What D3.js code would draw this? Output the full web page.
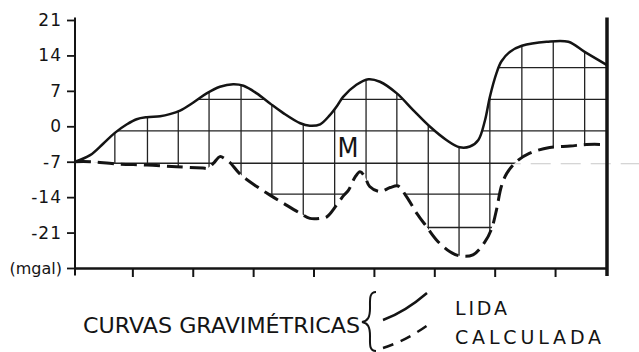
<!DOCTYPE html>
<html>
<head>
<meta charset="utf-8">
<script src="https://cdn.jsdelivr.net/npm/d3@7"></script>
<style>
  body { margin: 0; background: #fff; }
  svg { display: block; }
</style>
</head>
<body>
<svg id="chart" width="639" height="352"></svg>
<script>
// Gravity profile: observed ("LIDA") and computed ("CALCULADA") anomaly, mGal
const lidaX = [0.05, 0.30, 0.52, 0.71, 0.91, 1.07, 1.24, 1.46, 1.62, 1.79, 2.01, 2.23, 2.45, 2.67, 2.84, 3.06,
  3.28, 3.50, 3.78, 3.94, 4.11, 4.27, 4.40, 4.49, 4.71, 4.91, 5.10, 5.38, 5.65, 5.93, 6.20, 6.42, 6.59,
  6.73, 6.84, 6.92, 7.03, 7.11, 7.25, 7.45, 7.86, 8.22, 8.49, 8.86];
const lidaY = [-7.0, -5.7, -3.4, -1.3, 0.4, 1.4, 1.8, 2.0, 2.4, 3.1, 4.7, 6.5, 7.8, 8.3, 8.0, 6.5,
  4.5, 2.6, 0.6, 0.1, 0.4, 2.2, 4.2, 5.8, 8.2, 9.3, 8.8, 6.5, 3.2, -0.1, -2.7, -4.15, -4.0,
  -2.7, 1.2, 5.8, 10.5, 12.8, 14.7, 15.9, 16.7, 16.7, 14.7, 12.1];

const calcX = [0.05, 0.30, 0.74, 1.24, 1.73, 2.17, 2.24, 2.34, 2.45, 2.53, 2.62, 2.78, 3.06, 3.28, 3.50, 3.78,
  3.94, 4.11, 4.22, 4.38, 4.49, 4.58, 4.69, 4.77, 4.85, 4.93, 5.10, 5.27, 5.40, 5.54, 5.71, 5.87, 6.04,
  6.26, 6.42, 6.64, 6.84, 6.95, 7.03, 7.11, 7.20, 7.36, 7.58, 7.91, 8.25, 8.52, 8.86];
const calcY = [-7.0, -7.0, -7.45, -7.65, -8.0, -8.25, -8.3, -7.35, -6.0, -6.4, -7.2, -9.4, -11.9, -13.6, -15.2, -17.2,
  -18.2, -18.2, -17.9, -15.6, -13.8, -12.6, -10.0, -9.0, -10.0, -11.9, -12.9, -12.1, -11.8, -13.9, -17.2, -19.8, -22.5,
  -24.8, -25.6, -25.4, -22.8, -20.2, -16.5, -11.9, -9.3, -7.0, -5.3, -4.2, -3.9, -3.6, -3.6];

// Square hatching between the two curves
const gridX = [0.71, 1.25, 1.76, 2.27, 2.80, 3.31, 3.83, 4.35, 4.87, 5.38, 5.90, 6.41, 6.92, 7.45, 7.97, 8.49];
const gridY = [11.6, 5.3, -0.9, -7.3, -13.4, -20.0];

const xTicks = [1, 2, 3, 4, 5, 6, 7, 8];
const yTicks = [21, 14, 7, 0, -7, -14, -21, -28];
const yTickLabels = ["21", "14", "7", "0", "-7", "-14", "-21", "(mgal)"];

const seriesNames = ["LIDA", "CALCULADA"];
const legendTitle = "CURVAS GRAVIMÉTRICAS";
const zoneLabel = { text: "M", x: 4.57, y: -6.0 };
const traceLevel = -7.4;

const svg = d3.select("#chart");
const ink = "#141414";
const x = d3.scaleLinear().domain([0.05, 8.86]).range([75, 607]);
const y = d3.scaleLinear().domain([-28, 21]).range([268, 20]);

const line = d3.line()
  .x(d => x(d[0])).y(d => y(d[1]))
  .curve(d3.curveCatmullRom.alpha(0.5));

const lida = d3.zip(lidaX, lidaY);
const calc = d3.zip(calcX, calcY);

// clip region: observed curve forward, computed curve back
const topPath = line(lida);
const botPath = line(calc.slice().reverse());
svg.append("defs").append("clipPath").attr("id", "between")
  .append("path").attr("d", topPath + "L" + botPath.slice(1) + "Z");

// faint trace line on the right
svg.append("line")
  .attr("x1", x(7.1)).attr("x2", 639)
  .attr("y1", y(traceLevel)).attr("y2", y(traceLevel))
  .attr("stroke", "#c8c8c8").attr("stroke-width", 1)
  .attr("stroke-dasharray", "20,10");

const hatch = svg.append("g").attr("clip-path", "url(#between)")
  .attr("stroke", "#222").attr("stroke-width", 1.3);
hatch.selectAll("line.v").data(gridX).join("line").attr("class", "v")
  .attr("x1", d => x(d)).attr("x2", d => x(d))
  .attr("y1", y(21)).attr("y2", y(-28));
hatch.selectAll("line.h").data(gridY).join("line").attr("class", "h")
  .attr("x1", x(0.05)).attr("x2", x(8.86))
  .attr("y1", d => y(d)).attr("y2", d => y(d));

// curves
svg.append("path").attr("d", line(calc))
  .attr("fill", "none").attr("stroke", ink).attr("stroke-width", 3)
  .attr("stroke-dasharray", "16,7");
svg.append("path").attr("d", topPath)
  .attr("fill", "none").attr("stroke", ink).attr("stroke-width", 2.5)
  .attr("stroke-linejoin", "round");

// left axis
const yAxis = svg.append("g").attr("transform", `translate(${x(0.05)},0)`)
  .call(d3.axisLeft(y).tickValues(yTicks).tickSize(8).tickPadding(5)
    .tickFormat((d, i) => yTickLabels[i]));
yAxis.select(".domain").remove();
yAxis.selectAll(".tick line").attr("stroke", ink).attr("stroke-width", 1.8);
yAxis.selectAll(".tick text")
  .attr("fill", ink)
  .style("font-family", "'DejaVu Sans', sans-serif")
  .style("font-size", (d) => d === -28 ? "16px" : "17px")
  .style("letter-spacing", (d) => d === -28 ? "0px" : "1px");
svg.append("line")
  .attr("x1", x(0.05)).attr("x2", x(0.05))
  .attr("y1", y(21.5)).attr("y2", y(-29.5))
  .attr("stroke", ink).attr("stroke-width", 2);

// bottom axis
const xAxis = svg.append("g").attr("transform", `translate(0,${y(-28)})`)
  .call(d3.axisBottom(x).tickValues(xTicks).tickSize(9).tickSizeOuter(0).tickFormat(""));
xAxis.select(".domain").attr("stroke", ink).attr("stroke-width", 2.5);
xAxis.selectAll(".tick line").attr("stroke", ink).attr("stroke-width", 2);

// right border
svg.append("line")
  .attr("x1", x(8.86)).attr("x2", x(8.86))
  .attr("y1", y(21.5)).attr("y2", y(-29.6))
  .attr("stroke", ink).attr("stroke-width", 3.5);

// zone label
svg.append("text")
  .attr("x", x(zoneLabel.x)).attr("y", y(zoneLabel.y))
  .attr("text-anchor", "middle")
  .attr("fill", ink)
  .style("font-family", "'DejaVu Sans Condensed', 'DejaVu Sans', sans-serif")
  .style("font-size", "27px")
  .text(zoneLabel.text);

// legend
const lg = svg.append("g").attr("fill", ink)
  .style("font-family", "'DejaVu Sans', sans-serif");
lg.append("text").attr("x", 83).attr("y", 333)
  .attr("textLength", 277).attr("lengthAdjust", "spacingAndGlyphs")
  .style("font-size", "22px").text(legendTitle);
lg.append("path")
  .attr("d", "M376,292 C369,292 370,300 370,308 C370,317 368,321 362,322 C368,323 370,327 370,336 C370,344 369,351 376,351")
  .attr("fill", "none").attr("stroke", ink).attr("stroke-width", 2);
lg.append("path").attr("d", "M383,320 Q405,312 427,293")
  .attr("fill", "none").attr("stroke", ink).attr("stroke-width", 2.5);
lg.append("path").attr("d", "M383,348 Q408,340 432,322")
  .attr("fill", "none").attr("stroke", ink).attr("stroke-width", 2.5)
  .attr("stroke-dasharray", "11,8");
lg.append("text").attr("x", 455).attr("y", 315)
  .attr("textLength", 52).attr("lengthAdjust", "spacing")
  .style("font-size", "19px").text(seriesNames[0]);
lg.append("text").attr("x", 455).attr("y", 344)
  .attr("textLength", 146).attr("lengthAdjust", "spacing")
  .style("font-size", "19px").text(seriesNames[1]);
</script>
</body>
</html>
